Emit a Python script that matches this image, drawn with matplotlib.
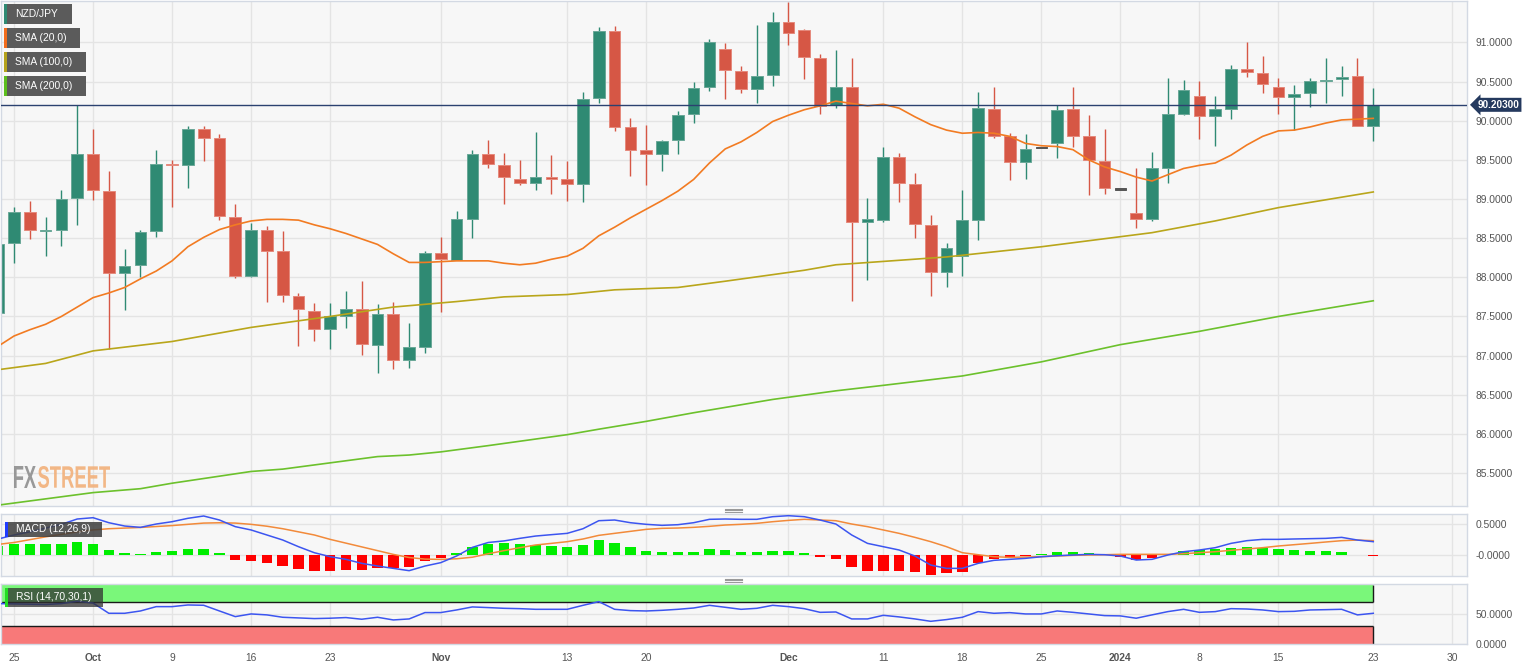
import numpy as np
import matplotlib
matplotlib.use("Agg")
import matplotlib.pyplot as plt
import matplotlib.transforms as mtransforms
from matplotlib.patches import Rectangle, PathPatch
from matplotlib.lines import Line2D
from matplotlib.textpath import TextPath
from matplotlib.font_manager import FontProperties

W, H = 1536, 668

# trading days, 0 = Sep 25 2023 (weekdays only, holidays shown flat)
days = list(range(-1, 87))

opens = [87.54, 88.44, 88.83, 88.59, 88.60, 89.01, 89.58, 89.10, 88.05, 88.16,
         88.59, 89.45, 89.43, 89.90, 89.78, 88.77, 88.02, 88.61, 88.33, 87.76,
         87.57, 87.34, 87.51, 87.60, 87.13, 87.53, 86.95, 87.11, 88.31, 88.22,
         88.74, 89.57, 89.43, 89.26, 89.21, 89.28, 89.26, 89.19, 90.29, 91.14,
         89.92, 89.62, 89.57, 89.75, 90.08, 90.43, 90.92, 90.64, 90.40, 90.58,
         91.26, 91.16, 90.80, 90.20, 90.43, 88.70, 88.73, 89.54, 89.19, 88.67,
         88.07, 88.27, 88.73, 90.15, 89.80, 89.47, 89.655, 89.71, 90.15, 89.80,
         89.49, 89.12, 88.82, 88.74, 89.40, 90.09, 90.32, 90.06, 90.15, 90.66,
         90.61, 90.43, 90.30, 90.35, 90.51, 90.53, 90.57, 89.93]
highs = [88.73, 88.90, 88.97, 88.77, 89.12, 90.20, 89.90, 89.36, 88.36, 88.60,
         89.63, 89.50, 89.93, 89.93, 89.83, 88.93, 88.69, 88.65, 88.59, 87.80,
         87.67, 87.67, 87.82, 87.95, 87.66, 87.69, 87.42, 88.33, 88.52, 88.85,
         89.63, 89.76, 89.59, 89.50, 89.86, 89.56, 89.49, 90.37, 91.20, 91.21,
         90.03, 89.95, 89.76, 90.12, 90.50, 91.04, 90.99, 90.70, 91.22, 91.39,
         91.52, 91.17, 90.85, 90.90, 90.80, 89.01, 89.67, 89.59, 89.33, 88.80,
         88.44, 89.11, 90.37, 90.43, 89.84, 89.83, 89.655, 90.20, 90.43, 90.07,
         89.90, 89.12, 89.39, 89.60, 90.55, 90.52, 90.51, 90.31, 90.71, 91.00,
         90.83, 90.54, 90.46, 90.55, 90.80, 90.70, 90.80, 90.42]
lows = [87.39, 88.18, 88.49, 88.27, 88.40, 88.67, 88.99, 87.08, 87.58, 88.01,
        88.51, 88.90, 89.14, 89.49, 88.73, 87.99, 88.00, 87.69, 87.69, 87.12,
        87.19, 87.09, 87.35, 87.01, 86.78, 86.83, 86.84, 87.03, 87.56, 88.22,
        88.50, 89.39, 88.94, 89.18, 89.12, 89.07, 88.97, 88.96, 90.22, 89.87,
        89.30, 89.18, 89.36, 89.58, 89.97, 90.38, 90.28, 90.35, 90.23, 90.44,
        90.97, 90.53, 90.09, 90.16, 87.70, 87.97, 88.70, 88.96, 88.50, 87.76,
        87.87, 88.02, 88.48, 89.78, 89.24, 89.25, 89.655, 89.52, 89.66, 89.05,
        89.06, 89.12, 88.63, 88.72, 89.21, 90.07, 89.77, 89.68, 90.02, 90.56,
        90.36, 90.09, 89.88, 90.18, 90.23, 90.31, 89.93, 89.74]
closes = [88.43, 88.83, 88.60, 88.61, 89.00, 89.58, 89.11, 88.05, 88.15, 88.58,
          89.45, 89.43, 89.90, 89.78, 88.78, 88.02, 88.61, 88.33, 87.77, 87.60,
          87.34, 87.51, 87.60, 87.15, 87.53, 86.95, 87.11, 88.31, 88.23, 88.74,
          89.57, 89.45, 89.28, 89.21, 89.28, 89.25, 89.19, 90.28, 91.14, 89.92,
          89.63, 89.57, 89.74, 90.07, 90.42, 91.00, 90.65, 90.40, 90.57, 91.26,
          91.12, 90.82, 90.19, 90.43, 88.70, 88.75, 89.54, 89.20, 88.68, 88.07,
          88.37, 88.73, 90.16, 89.80, 89.47, 89.64, 89.655, 90.14, 89.80, 89.50,
          89.14, 89.12, 88.74, 89.39, 90.09, 90.39, 90.06, 90.15, 90.66, 90.62,
          90.47, 90.30, 90.34, 90.51, 90.52, 90.56, 89.93, 90.203]

sma20 = [87.12, 87.25, 87.33, 87.40, 87.50, 87.62, 87.74, 87.80, 87.87, 87.98,
         88.08, 88.21, 88.39, 88.51, 88.61, 88.67, 88.72, 88.74, 88.74, 88.73,
         88.67, 88.62, 88.56, 88.49, 88.42, 88.30, 88.19, 88.19, 88.20, 88.21,
         88.21, 88.21, 88.18, 88.16, 88.18, 88.23, 88.27, 88.37, 88.53, 88.64,
         88.76, 88.87, 88.98, 89.10, 89.25, 89.46, 89.64, 89.73, 89.85, 89.99,
         90.07, 90.14, 90.19, 90.25, 90.22, 90.19, 90.21, 90.16, 90.05, 89.95,
         89.88, 89.84, 89.85, 89.84, 89.80, 89.71, 89.68, 89.67, 89.63, 89.50,
         89.41, 89.35, 89.28, 89.23, 89.31, 89.39, 89.43, 89.46, 89.56, 89.69,
         89.80, 89.87, 89.88, 89.92, 89.97, 90.01, 90.02, 90.03]

sma100_days = [-1, 2, 5, 10, 15, 20, 24, 28, 31, 35, 38, 42, 45, 50, 52, 59,
               65, 72, 76, 80, 86]
sma100 = [86.82, 86.90, 87.06, 87.18, 87.36, 87.50, 87.62, 87.69, 87.75, 87.78,
          87.84, 87.87, 87.95, 88.09, 88.16, 88.26, 88.39, 88.57, 88.72, 88.89,
          89.09]

sma200_days = [-1, 5, 8, 10, 12, 15, 17, 20, 23, 25, 27, 30, 35, 37, 40, 43,
               48, 52, 55, 60, 65, 70, 75, 80, 86]
sma200 = [85.09, 85.25, 85.30, 85.37, 85.43, 85.52, 85.55, 85.63, 85.71, 85.73,
          85.77, 85.85, 85.99, 86.06, 86.16, 86.27, 86.44, 86.55, 86.62, 86.74,
          86.92, 87.14, 87.31, 87.50, 87.70]

macd_hist = [0.149, 0.176, 0.176, 0.176, 0.176, 0.208, 0.176, 0.080, 0.027, 0.010,
             0.043, 0.059, 0.090, 0.096, 0.032, -0.075, -0.096, -0.128, -0.181, -0.224,
             -0.256, -0.256, -0.240, -0.245, -0.213, -0.213, -0.197, -0.101, -0.043, 0.032,
             0.133, 0.176, 0.186, 0.176, 0.165, 0.149, 0.122, 0.165, 0.240, 0.192,
             0.122, 0.069, 0.043, 0.043, 0.053, 0.090, 0.080, 0.053, 0.043, 0.069,
             0.069, 0.037, -0.027, -0.059, -0.186, -0.260, -0.250, -0.250, -0.277, -0.320,
             -0.293, -0.266, -0.133, -0.064, -0.048, -0.010, 0.016, 0.043, 0.053, 0.032,
             0.005, -0.037, -0.075, -0.048, 0.016, 0.069, 0.080, 0.090, 0.117, 0.133,
             0.117, 0.090, 0.075, 0.069, 0.064, 0.053, 0.005, -0.010]
macd_line = [0.256, 0.320, 0.370, 0.430, 0.490, 0.575, 0.596, 0.516, 0.463, 0.442,
             0.495, 0.532, 0.586, 0.623, 0.559, 0.453, 0.400, 0.320, 0.240, 0.133,
             0.037, -0.026, -0.069, -0.133, -0.176, -0.213, -0.250, -0.176, -0.122, -0.016,
             0.122, 0.200, 0.225, 0.266, 0.303, 0.325, 0.346, 0.420, 0.548, 0.559,
             0.516, 0.490, 0.474, 0.484, 0.516, 0.570, 0.575, 0.570, 0.570, 0.612,
             0.628, 0.612, 0.559, 0.495, 0.320, 0.186, 0.133, 0.080, -0.016, -0.160,
             -0.213, -0.213, -0.133, -0.085, -0.069, -0.053, -0.027, -0.011, 0.000, 0.011,
             0.005, -0.016, -0.080, -0.069, 0.000, 0.053, 0.080, 0.117, 0.186, 0.229,
             0.250, 0.250, 0.256, 0.261, 0.266, 0.282, 0.239, 0.213]
macd_signal = [0.170, 0.200, 0.245, 0.290, 0.330, 0.370, 0.400, 0.420, 0.430, 0.440,
               0.455, 0.470, 0.490, 0.510, 0.515, 0.510, 0.490, 0.460, 0.420, 0.370,
               0.320, 0.250, 0.190, 0.130, 0.070, 0.010, -0.040, -0.065, -0.070, -0.060,
               -0.035, 0.020, 0.070, 0.117, 0.160, 0.186, 0.213, 0.256, 0.314, 0.346,
               0.378, 0.410, 0.426, 0.431, 0.442, 0.458, 0.479, 0.490, 0.506, 0.532,
               0.553, 0.570, 0.559, 0.548, 0.495, 0.453, 0.400, 0.346, 0.282, 0.213,
               0.133, 0.037, 0.005, -0.027, -0.037, -0.032, -0.027, -0.016, -0.005, 0.000,
               0.005, 0.011, 0.011, 0.011, 0.011, 0.021, 0.037, 0.053, 0.075, 0.096,
               0.117, 0.144, 0.165, 0.186, 0.208, 0.229, 0.239, 0.229]

rsi = [68.0, 67.5, 67.0, 66.5, 68.0, 72.0, 69.0, 51.7, 51.7, 55.6,
       62.9, 62.9, 65.7, 65.2, 55.6, 46.1, 50.6, 49.0, 45.0, 43.9,
       42.8, 43.4, 44.5, 41.7, 45.0, 40.5, 42.2, 52.9, 52.9, 57.3,
       62.4, 61.3, 60.1, 59.5, 58.4, 58.4, 58.4, 65.1, 71.3, 58.4,
       56.2, 55.6, 56.7, 58.4, 60.6, 65.1, 61.8, 58.4, 60.1, 65.1,
       62.9, 59.5, 53.3, 53.9, 42.2, 42.2, 48.3, 45.6, 42.2, 38.2,
       41.1, 45.0, 54.5, 51.7, 52.8, 50.6, 50.6, 55.6, 53.3, 50.6,
       47.8, 47.3, 43.4, 49.0, 54.5, 58.4, 53.3, 54.5, 59.5, 58.9,
       57.3, 54.5, 55.0, 57.3, 57.8, 58.4, 49.0, 51.7]

last_price = 90.203

tick_days = [0, 5, 10, 15, 20, 27, 35, 40, 49, 55, 60, 65, 70, 75, 80, 86, 91]
tick_labels = ['25', 'Oct', '9', '16', '23', 'Nov', '13', '20', 'Dec', '11',
               '18', '25', '2024', '8', '15', '23', '30']
bold_labels = ['Oct', 'Nov', 'Dec', '2024']

price_ticks = [85.5, 86.0, 86.5, 87.0, 87.5, 88.0, 88.5, 89.0, 89.5, 90.0, 90.5, 91.0]

# colours
GREEN = '#2f8a73'
RED = '#d65745'
BG = '#f7f7f7'
GRID = '#e4e4e4'
SPINE = '#d3d9e3'
TXT = '#555555'

plt.rcParams['font.family'] = ['Liberation Sans', 'DejaVu Sans']

fig = plt.figure(figsize=(W / 100, H / 100), dpi=100)


def box(top, bottom, left=0.5, right=1467):
    return [left / W, 1 - bottom / H, (right - left) / W, (bottom - top) / H]


ax = fig.add_axes(box(1, 506))
ax_macd = fig.add_axes(box(514, 576))
ax_rsi = fig.add_axes(box(584, 644.3))

xlim = (-0.854, 91.93)

for a in (ax, ax_macd, ax_rsi):
    a.set_facecolor(BG)
    a.set_xlim(*xlim)
    for s in a.spines.values():
        s.set_color(SPINE)
        s.set_linewidth(1)
    a.yaxis.tick_right()
    a.tick_params(axis='y', length=0, pad=6, labelsize=7.4, labelcolor=TXT)
    a.tick_params(axis='x', length=0)
    a.set_xticks(tick_days)
    a.grid(True, color=GRID, lw=1)
    a.set_axisbelow(True)

ax.set_xticklabels([])
ax_macd.set_xticklabels([])
ax_rsi.set_xticklabels(tick_labels)
ax_rsi.tick_params(axis='x', pad=6, labelsize=7.4, labelcolor=TXT)
for t in ax_rsi.get_xticklabels():
    if t.get_text() in bold_labels:
        t.set_fontweight('bold')

# ---- main price panel ----
x = np.array(days)
o = np.array(opens)
hi = np.array(highs)
lo = np.array(lows)
c = np.array(closes)

body_col = np.where(c > o, GREEN, np.where(c < o, RED, '#555555'))
edge_col = np.where(c > o, '#6aa898', np.where(c < o, '#e58a7d', '#555555'))
ax.vlines(x, lo, hi, colors=body_col, lw=1, zorder=2)
ax.bar(x, np.maximum(np.abs(c - o), 0.015), bottom=np.minimum(o, c), width=0.74,
       color=body_col, edgecolor=edge_col, lw=0.7, zorder=2.5)

ax.plot(sma200_days, sma200, color='#6cc12c', lw=1.2, zorder=3)
ax.plot(sma100_days, sma100, color='#b9a61b', lw=1.2, zorder=3)
ax.plot(days, sma20, color='#f27b22', lw=1.2, zorder=3)

ax.axhline(last_price, color='#2b4170', lw=1, zorder=4)

ax.set_ylim(85.079, 91.529)
ax.set_yticks(price_ticks)
ax.set_yticklabels([f'{v:.4f}' for v in price_ticks])

trans = mtransforms.blended_transform_factory(ax.transAxes, ax.transData)
ax.text(1.0072, last_price, f'{last_price:.5f}', transform=trans, ha='left', va='center',
        color='white', fontweight='bold', fontsize=7.2, zorder=6, clip_on=False,
        bbox=dict(boxstyle='larrow,pad=0.2', fc='#24395e', ec='none'))

# ---- MACD panel ----
hist = np.array(macd_hist)
ax_macd.bar(x, hist, width=0.66, color=np.where(hist >= 0, '#00ee00', '#ff0000'), zorder=2)
ax_macd.plot(days, macd_signal, color='#f28a3a', lw=1.1, zorder=3)
ax_macd.plot(days, macd_line, color='#3c55f0', lw=1.1, zorder=3)
ax_macd.set_ylim(-0.335, 0.655)
ax_macd.set_yticks([0.0, 0.5])
ax_macd.set_yticklabels(['-0.0000', '0.5000'])

# ---- RSI panel ----
ax_rsi.fill_between([xlim[0], 86], 70, 100, color='#7af77a', lw=0, zorder=1)
ax_rsi.fill_between([xlim[0], 86], 0, 30, color='#f87979', lw=0, zorder=1)
ax_rsi.hlines([70, 30], xlim[0], 86, color='#1a1a1a', lw=1, zorder=2)
ax_rsi.vlines(86, 70, 100, color='#1a1a1a', lw=1, zorder=2)
ax_rsi.vlines(86, 0, 30, color='#1a1a1a', lw=1, zorder=2)
ax_rsi.plot(days, rsi, color='#3c55f0', lw=1.1, zorder=3)
ax_rsi.set_ylim(-0.5, 101)
ax_rsi.set_yticks([0, 50])
ax_rsi.set_yticklabels(['0.0000', '50.0000'])


# ---- legend tags drawn in pixel space ----
def tag(x0, y0, x1, y1, text, stripe, fc='#5b5b5b', alpha=1.0):
    fig.add_artist(Rectangle((x0 / W, 1 - y1 / H), (x1 - x0) / W, (y1 - y0) / H,
                             transform=fig.transFigure, fc=fc, ec='none', alpha=alpha, zorder=5))
    fig.add_artist(Rectangle((x0 / W, 1 - y1 / H), 2.5 / W, (y1 - y0) / H,
                             transform=fig.transFigure, fc=stripe, ec='none', zorder=6))
    fig.text((x0 + 11) / W, 1 - (y0 + y1) / 2 / H, text, color='white', fontsize=7.4,
             ha='left', va='center', zorder=7)


tag(4, 4, 72, 24, 'NZD/JPY', GREEN)
tag(4, 28, 80, 48, 'SMA (20,0)', '#f26c1c')
tag(4, 52, 86, 72, 'SMA (100,0)', '#b5a31c')
tag(4, 76, 86, 96, 'SMA (200,0)', '#5cbf1e')
tag(5, 522, 102, 537, 'MACD (12,26,9)', '#1f3cff', fc='#3d3d3d', alpha=0.85)
tag(5, 588, 103, 607, 'RSI (14,70,30,1)', '#22dd22', fc='#303030', alpha=0.75)

# panel resize handles
for yy in (510, 580):
    for dy in (-1.5, 0, 1.5):
        fig.add_artist(Line2D([725 / W, 742 / W], [1 - (yy + dy) / H] * 2,
                              transform=fig.transFigure, color='#9a9a9a', lw=0.8))


# watermark: condensed lettering squeezed into its pixel box
def squeezed(text, x0, x1, ytop, ybot, color):
    path = TextPath((0, 0), text, size=30,
                    prop=FontProperties(family='Liberation Sans', weight='bold'))
    ext = path.get_extents()
    sx = (x1 - x0) / ext.width
    sy = (ybot - ytop) / ext.height
    tr = (mtransforms.Affine2D().translate(-ext.x0, -ext.y0).scale(sx, sy)
          .translate(x0, H - ybot))
    fig.add_artist(PathPatch(tr.transform_path(path), fc=color, ec='none',
                             transform=mtransforms.IdentityTransform(), alpha=0.9))


squeezed('FX', 14, 36, 466, 488, '#8f8f8f')
squeezed('STREET', 38, 110, 466, 488, '#f2b07a')

fig.savefig('out.png', dpi=100, facecolor='white')
